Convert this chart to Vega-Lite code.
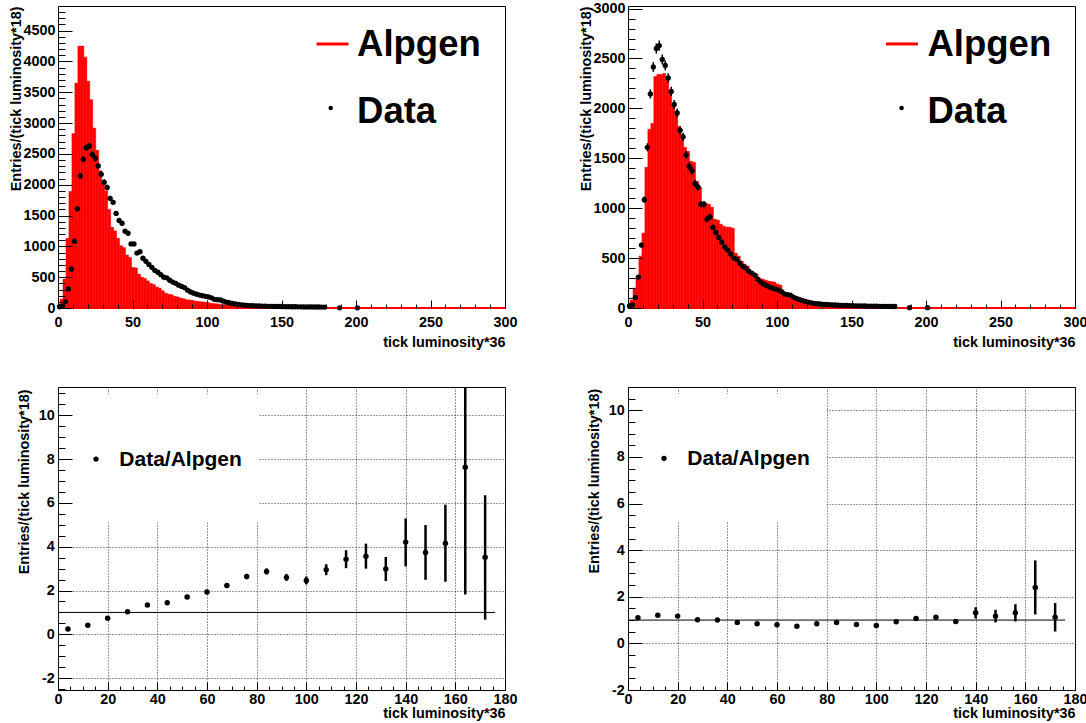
{
"$schema": "https://vega.github.io/schema/vega-lite/v6.json",
"autosize": {"type": "pad"},
"padding": {"left": 7, "top": 0, "right": 0, "bottom": 0},
"background": "white",
"config": {
 "font": "Liberation Sans",
 "view": {"stroke": "#000", "strokeWidth": 1},
 "axis": {"labelFont": "Liberation Sans", "labelFontWeight": "bold", "labelFontSize": 14.4, "labelColor": "#000", "titleFont": "Liberation Sans", "titleFontWeight": "bold", "titleFontSize": 14.4, "titleColor": "#000", "tickColor": "#000", "tickWidth": 1, "domain": false, "labelFlush": false, "labelOverlap": false, "grid": false, "labelExpr": "'' + datum.value"}
},
"datasets": {
 "alpgenA": [{"lo":-1,"n":60},{"lo":1,"n":145},{"lo":3,"n":470},{"lo":5,"n":1130},{"lo":7,"n":1890},{"lo":9,"n":2830},{"lo":11,"n":3650},{"lo":13,"n":4250},{"lo":15,"n":4250},{"lo":17,"n":4070},{"lo":19,"n":3680},{"lo":21,"n":3380},{"lo":23,"n":2920},{"lo":25,"n":2560},{"lo":27,"n":2230},{"lo":29,"n":2030},{"lo":31,"n":1900},{"lo":33,"n":1600},{"lo":35,"n":1310},{"lo":37,"n":1250},{"lo":39,"n":1130},{"lo":41,"n":1010},{"lo":43,"n":980},{"lo":45,"n":860},{"lo":47,"n":820},{"lo":49,"n":660},{"lo":51,"n":650},{"lo":53,"n":550},{"lo":55,"n":500},{"lo":57,"n":480},{"lo":59,"n":440},{"lo":61,"n":400},{"lo":63,"n":380},{"lo":65,"n":340},{"lo":67,"n":320},{"lo":69,"n":280},{"lo":71,"n":240},{"lo":73,"n":225},{"lo":75,"n":215},{"lo":77,"n":190},{"lo":79,"n":180},{"lo":81,"n":160},{"lo":83,"n":150},{"lo":85,"n":135},{"lo":87,"n":130},{"lo":89,"n":125},{"lo":91,"n":110},{"lo":93,"n":105},{"lo":95,"n":100},{"lo":97,"n":95},{"lo":99,"n":90},{"lo":101,"n":78},{"lo":103,"n":72},{"lo":105,"n":68},{"lo":107,"n":62},{"lo":109,"n":58},{"lo":111,"n":52},{"lo":113,"n":48},{"lo":115,"n":45},{"lo":117,"n":42},{"lo":119,"n":40},{"lo":121,"n":32},{"lo":123,"n":30},{"lo":125,"n":28},{"lo":127,"n":27},{"lo":129,"n":26},{"lo":131,"n":25},{"lo":133,"n":24},{"lo":135,"n":23},{"lo":137,"n":22},{"lo":139,"n":20},{"lo":141,"n":18},{"lo":143,"n":16},{"lo":145,"n":15},{"lo":147,"n":14},{"lo":149,"n":13},{"lo":151,"n":12},{"lo":153,"n":11},{"lo":155,"n":10},{"lo":157,"n":9},{"lo":159,"n":9},{"lo":161,"n":8},{"lo":163,"n":8},{"lo":165,"n":7},{"lo":167,"n":7},{"lo":169,"n":6},{"lo":171,"n":6},{"lo":173,"n":5},{"lo":175,"n":5},{"lo":177,"n":4},{"lo":179,"n":4}],
 "alpgenB": [{"lo":-1,"n":50},{"lo":1,"n":80},{"lo":3,"n":200},{"lo":5,"n":310},{"lo":7,"n":520},{"lo":9,"n":750},{"lo":11,"n":1410},{"lo":13,"n":1790},{"lo":15,"n":1850},{"lo":17,"n":2320},{"lo":19,"n":2340},{"lo":21,"n":2340},{"lo":23,"n":2350},{"lo":25,"n":2290},{"lo":27,"n":2170},{"lo":29,"n":2040},{"lo":31,"n":1940},{"lo":33,"n":1820},{"lo":35,"n":1740},{"lo":37,"n":1610},{"lo":39,"n":1570},{"lo":41,"n":1470},{"lo":43,"n":1460},{"lo":45,"n":1270},{"lo":47,"n":1210},{"lo":49,"n":1060},{"lo":51,"n":1050},{"lo":53,"n":1040},{"lo":55,"n":1010},{"lo":57,"n":890},{"lo":59,"n":880},{"lo":61,"n":840},{"lo":63,"n":820},{"lo":65,"n":810},{"lo":67,"n":810},{"lo":69,"n":800},{"lo":71,"n":550},{"lo":73,"n":520},{"lo":75,"n":470},{"lo":77,"n":440},{"lo":79,"n":420},{"lo":81,"n":360},{"lo":83,"n":350},{"lo":85,"n":340},{"lo":87,"n":300},{"lo":89,"n":290},{"lo":91,"n":280},{"lo":93,"n":270},{"lo":95,"n":265},{"lo":97,"n":260},{"lo":99,"n":240},{"lo":101,"n":230},{"lo":103,"n":170},{"lo":105,"n":150},{"lo":107,"n":140},{"lo":109,"n":115},{"lo":111,"n":110},{"lo":113,"n":105},{"lo":115,"n":95},{"lo":117,"n":85},{"lo":119,"n":60},{"lo":121,"n":55},{"lo":123,"n":50},{"lo":125,"n":48},{"lo":127,"n":45},{"lo":129,"n":40},{"lo":131,"n":32},{"lo":133,"n":30},{"lo":135,"n":28},{"lo":137,"n":26},{"lo":139,"n":24},{"lo":141,"n":22},{"lo":143,"n":20},{"lo":145,"n":18},{"lo":147,"n":16},{"lo":149,"n":14},{"lo":151,"n":12},{"lo":153,"n":11},{"lo":155,"n":10},{"lo":157,"n":9},{"lo":159,"n":8},{"lo":161,"n":8},{"lo":163,"n":7},{"lo":165,"n":6},{"lo":167,"n":6},{"lo":169,"n":5},{"lo":171,"n":5},{"lo":173,"n":4},{"lo":175,"n":4},{"lo":177,"n":3},{"lo":179,"n":3}],
 "data": [{"x":1,"v":20,"err":4},{"x":3,"v":30,"err":5},{"x":5,"v":105,"err":10},{"x":7,"v":310,"err":18},{"x":9,"v":630,"err":25},{"x":11,"v":1085,"err":33},{"x":13,"v":1610,"err":40},{"x":15,"v":2145,"err":46},{"x":17,"v":2415,"err":49},{"x":19,"v":2600,"err":51},{"x":21,"v":2630,"err":51},{"x":23,"v":2490,"err":50},{"x":25,"v":2430,"err":49},{"x":27,"v":2305,"err":48},{"x":29,"v":2170,"err":47},{"x":31,"v":2040,"err":45},{"x":33,"v":1955,"err":44},{"x":35,"v":1780,"err":42},{"x":37,"v":1715,"err":41},{"x":39,"v":1535,"err":39},{"x":41,"v":1420,"err":38},{"x":43,"v":1375,"err":37},{"x":45,"v":1247,"err":35},{"x":47,"v":1213,"err":35},{"x":49,"v":1040,"err":32},{"x":51,"v":1040,"err":32},{"x":53,"v":890,"err":30},{"x":55,"v":913,"err":30},{"x":57,"v":807,"err":28},{"x":59,"v":757,"err":28},{"x":61,"v":707,"err":27},{"x":63,"v":660,"err":26},{"x":65,"v":610,"err":25},{"x":67,"v":580,"err":24},{"x":69,"v":540,"err":23},{"x":71,"v":500,"err":22},{"x":73,"v":490,"err":22},{"x":75,"v":450,"err":21},{"x":77,"v":420,"err":20},{"x":79,"v":400,"err":20},{"x":81,"v":370,"err":19},{"x":83,"v":350,"err":19},{"x":85,"v":330,"err":18},{"x":87,"v":290,"err":17},{"x":89,"v":260,"err":16},{"x":91,"v":240,"err":15},{"x":93,"v":225,"err":15},{"x":95,"v":210,"err":14},{"x":97,"v":200,"err":14},{"x":99,"v":190,"err":14},{"x":101,"v":180,"err":13},{"x":103,"v":165,"err":13},{"x":105,"v":140,"err":12},{"x":107,"v":135,"err":12},{"x":109,"v":130,"err":11},{"x":111,"v":110,"err":10},{"x":113,"v":95,"err":10},{"x":115,"v":85,"err":9},{"x":117,"v":75,"err":9},{"x":119,"v":65,"err":8},{"x":121,"v":58,"err":8},{"x":123,"v":52,"err":7},{"x":125,"v":47,"err":7},{"x":127,"v":43,"err":7},{"x":129,"v":40,"err":6},{"x":131,"v":37,"err":6},{"x":133,"v":35,"err":6},{"x":135,"v":33,"err":6},{"x":137,"v":31,"err":6},{"x":139,"v":30,"err":5},{"x":141,"v":28,"err":5},{"x":143,"v":27,"err":5},{"x":145,"v":26,"err":5},{"x":147,"v":25,"err":5},{"x":149,"v":24,"err":5},{"x":151,"v":23,"err":5},{"x":153,"v":22,"err":5},{"x":155,"v":21,"err":5},{"x":157,"v":20,"err":4},{"x":159,"v":20,"err":4},{"x":161,"v":19,"err":4},{"x":163,"v":19,"err":4},{"x":165,"v":18,"err":4},{"x":167,"v":18,"err":4},{"x":169,"v":17,"err":4},{"x":171,"v":17,"err":4},{"x":173,"v":16,"err":4},{"x":175,"v":16,"err":4},{"x":177,"v":15,"err":4},{"x":179,"v":15,"err":4},{"x":189,"v":3,"err":2},{"x":201,"v":3,"err":2}],
 "ratioA": [{"x":4,"r":0.24,"lo":0.20,"hi":0.28},{"x":12,"r":0.42,"lo":0.38,"hi":0.46},{"x":20,"r":0.73,"lo":0.69,"hi":0.77},{"x":28,"r":1.03,"lo":0.99,"hi":1.07},{"x":36,"r":1.34,"lo":1.29,"hi":1.39},{"x":44,"r":1.44,"lo":1.38,"hi":1.50},{"x":52,"r":1.70,"lo":1.63,"hi":1.77},{"x":60,"r":1.93,"lo":1.85,"hi":2.01},{"x":68,"r":2.23,"lo":2.13,"hi":2.33},{"x":76,"r":2.64,"lo":2.52,"hi":2.76},{"x":84,"r":2.87,"lo":2.73,"hi":3.01},{"x":92,"r":2.60,"lo":2.44,"hi":2.76},{"x":100,"r":2.46,"lo":2.28,"hi":2.64},{"x":108,"r":2.95,"lo":2.70,"hi":3.20},{"x":116,"r":3.43,"lo":3.02,"hi":3.84},{"x":124,"r":3.57,"lo":3.00,"hi":4.14},{"x":132,"r":2.98,"lo":2.43,"hi":3.53},{"x":140,"r":4.21,"lo":3.10,"hi":5.29},{"x":148,"r":3.74,"lo":2.49,"hi":4.99},{"x":156,"r":4.16,"lo":2.40,"hi":5.92},{"x":164,"r":7.63,"lo":1.82,"hi":13.44},{"x":172,"r":3.52,"lo":0.67,"hi":6.35}],
 "ratioB": [{"x":4,"r":1.10,"lo":1.06,"hi":1.14},{"x":12,"r":1.21,"lo":1.17,"hi":1.25},{"x":20,"r":1.17,"lo":1.13,"hi":1.21},{"x":28,"r":1.01,"lo":0.97,"hi":1.05},{"x":36,"r":1.00,"lo":0.96,"hi":1.04},{"x":44,"r":0.90,"lo":0.86,"hi":0.94},{"x":52,"r":0.84,"lo":0.80,"hi":0.88},{"x":60,"r":0.80,"lo":0.76,"hi":0.84},{"x":68,"r":0.74,"lo":0.70,"hi":0.78},{"x":76,"r":0.84,"lo":0.79,"hi":0.89},{"x":84,"r":0.90,"lo":0.85,"hi":0.95},{"x":92,"r":0.81,"lo":0.76,"hi":0.86},{"x":100,"r":0.77,"lo":0.71,"hi":0.83},{"x":108,"r":0.93,"lo":0.86,"hi":1.00},{"x":116,"r":1.07,"lo":0.98,"hi":1.16},{"x":124,"r":1.12,"lo":1.02,"hi":1.22},{"x":132,"r":0.94,"lo":0.84,"hi":1.04},{"x":140,"r":1.31,"lo":1.07,"hi":1.55},{"x":148,"r":1.17,"lo":0.90,"hi":1.44},{"x":156,"r":1.31,"lo":0.94,"hi":1.68},{"x":164,"r":2.40,"lo":1.24,"hi":3.56},{"x":172,"r":1.12,"lo":0.51,"hi":1.73}]
},
"columns": 2,
"spacing": {"row": 79, "column": 123},
"bounds": "flush",
"concat": [
 {
  "width": 447, "height": 302,
  "resolve": {"axis": {"x": "independent", "y": "independent"}},
  "layer": [
   {"data": {"name": "alpgenA"},
    "mark": {"type": "bar", "color": "#ff0000", "binSpacing": 0, "stroke": "#ff0000", "strokeWidth": 0.5, "clip": true},
    "encoding": {
     "x": {"field": "lo", "type": "quantitative", "bin": {"binned": true, "step": 2}, "scale": {"domain": [0, 300], "nice": false, "zero": false},
      "axis": {"orient": "bottom", "values": [0,50,100,150,200,250,300], "tickSize": -8, "labelPadding": 15, "zindex": 1, "title": "tick luminosity*36", "titleX": 447, "titleY": 38, "titleAlign": "right", "titleAnchor": "end", "titleBaseline": "alphabetic"}},
     "y": {"field": "n", "type": "quantitative", "scale": {"domain": [0, 4900], "nice": false},
      "axis": {"orient": "left", "values": [0,500,1000,1500,2000,2500,3000,3500,4000,4500], "tickSize": -14, "labelPadding": 17, "zindex": 1, "title": "Entries/(tick luminosity*18)", "titleX": -38, "titleY": 0, "titleAngle": 270, "titleAlign": "right", "titleAnchor": "end", "titleBaseline": "alphabetic"}}
    }},
   {"data": {"values": [{}]}, "mark": {"type": "rule", "color": "#ff0000", "strokeWidth": 2},
    "encoding": {
     "x": {"datum": 0, "axis": {"orient": "bottom", "values": [0,10,20,30,40,50,60,70,80,90,100,110,120,130,140,150,160,170,180,190,200,210,220,230,240,250,260,270,280,290,300], "tickSize": -4, "labels": false, "title": null, "zindex": 1}},
     "x2": {"datum": 300},
     "y": {"datum": 0, "axis": {"orient": "left", "values": [0,100,200,300,400,500,600,700,800,900,1000,1100,1200,1300,1400,1500,1600,1700,1800,1900,2000,2100,2200,2300,2400,2500,2600,2700,2800,2900,3000,3100,3200,3300,3400,3500,3600,3700,3800,3900,4000,4100,4200,4300,4400,4500,4600,4700,4800], "tickSize": -7, "labels": false, "title": null, "zindex": 1}}
    }},
   {"data": {"name": "data"}, "mark": {"type": "errorbar", "ticks": false, "color": "#000", "thickness": 1.5}, "encoding": {"x": {"field": "x", "type": "quantitative", "axis": null}, "y": {"field": "v", "type": "quantitative", "axis": null}, "yError": {"field": "err"}}},
   {"data": {"name": "data"}, "mark": {"type": "circle", "color": "#000", "size": 28, "opacity": 1}, "encoding": {"x": {"field": "x", "type": "quantitative", "axis": null}, "y": {"field": "v", "type": "quantitative", "axis": null}}},
   {"data": {"values": [{}]}, "mark": {"type": "rule", "color": "#ff0000", "strokeWidth": 3}, "encoding": {"x": {"datum": 173.5, "axis": null}, "x2": {"datum": 195}, "y": {"datum": 4284, "axis": null}}},
   {"data": {"values": [{}]}, "mark": {"type": "circle", "color": "#000", "size": 20, "opacity": 1}, "encoding": {"x": {"datum": 183, "axis": null}, "y": {"datum": 3246, "axis": null}}},
   {"data": {"values": [{}]}, "mark": {"type": "text", "text": "Alpgen", "font": "Liberation Sans", "fontWeight": "bold", "fontSize": 36.5, "align": "left", "baseline": "alphabetic", "color": "#000"}, "encoding": {"x": {"datum": 200.7, "axis": null}, "y": {"datum": 4084, "axis": null}}},
   {"data": {"values": [{}]}, "mark": {"type": "text", "text": "Data", "font": "Liberation Sans", "fontWeight": "bold", "fontSize": 36.5, "align": "left", "baseline": "alphabetic", "color": "#000"}, "encoding": {"x": {"datum": 200.7, "axis": null}, "y": {"datum": 3003, "axis": null}}}
  ]
 },
 {
  "width": 447, "height": 302,
  "resolve": {"axis": {"x": "independent", "y": "independent"}},
  "layer": [
   {"data": {"name": "alpgenB"},
    "mark": {"type": "bar", "color": "#ff0000", "binSpacing": 0, "stroke": "#ff0000", "strokeWidth": 0.5, "clip": true},
    "encoding": {
     "x": {"field": "lo", "type": "quantitative", "bin": {"binned": true, "step": 2}, "scale": {"domain": [0, 300], "nice": false, "zero": false},
      "axis": {"orient": "bottom", "values": [0,50,100,150,200,250,300], "tickSize": -8, "labelPadding": 15, "zindex": 1, "title": "tick luminosity*36", "titleX": 447, "titleY": 38, "titleAlign": "right", "titleAnchor": "end", "titleBaseline": "alphabetic"}},
     "y": {"field": "n", "type": "quantitative", "scale": {"domain": [0, 3026], "nice": false},
      "axis": {"orient": "left", "values": [0,500,1000,1500,2000,2500,3000], "tickSize": -14, "labelPadding": 17, "zindex": 1, "title": "Entries/(tick luminosity*18)", "titleX": -38, "titleY": 0, "titleAngle": 270, "titleAlign": "right", "titleAnchor": "end", "titleBaseline": "alphabetic"}}
    }},
   {"data": {"values": [{}]}, "mark": {"type": "rule", "color": "#ff0000", "strokeWidth": 2},
    "encoding": {
     "x": {"datum": 0, "axis": {"orient": "bottom", "values": [0,10,20,30,40,50,60,70,80,90,100,110,120,130,140,150,160,170,180,190,200,210,220,230,240,250,260,270,280,290,300], "tickSize": -4, "labels": false, "title": null, "zindex": 1}},
     "x2": {"datum": 300},
     "y": {"datum": 0, "axis": {"orient": "left", "values": [0,100,200,300,400,500,600,700,800,900,1000,1100,1200,1300,1400,1500,1600,1700,1800,1900,2000,2100,2200,2300,2400,2500,2600,2700,2800,2900,3000], "tickSize": -7, "labels": false, "title": null, "zindex": 1}}
    }},
   {"data": {"name": "data"}, "mark": {"type": "errorbar", "ticks": false, "color": "#000", "thickness": 1.5}, "encoding": {"x": {"field": "x", "type": "quantitative", "axis": null}, "y": {"field": "v", "type": "quantitative", "axis": null}, "yError": {"field": "err"}}},
   {"data": {"name": "data"}, "mark": {"type": "circle", "color": "#000", "size": 28, "opacity": 1}, "encoding": {"x": {"field": "x", "type": "quantitative", "axis": null}, "y": {"field": "v", "type": "quantitative", "axis": null}}},
   {"data": {"values": [{}]}, "mark": {"type": "rule", "color": "#ff0000", "strokeWidth": 3}, "encoding": {"x": {"datum": 173.2, "axis": null}, "x2": {"datum": 194.6}, "y": {"datum": 2646, "axis": null}}},
   {"data": {"values": [{}]}, "mark": {"type": "circle", "color": "#000", "size": 20, "opacity": 1}, "encoding": {"x": {"datum": 183.6, "axis": null}, "y": {"datum": 2005, "axis": null}}},
   {"data": {"values": [{}]}, "mark": {"type": "text", "text": "Alpgen", "font": "Liberation Sans", "fontWeight": "bold", "fontSize": 36.5, "align": "left", "baseline": "alphabetic", "color": "#000"}, "encoding": {"x": {"datum": 201, "axis": null}, "y": {"datum": 2523, "axis": null}}},
   {"data": {"values": [{}]}, "mark": {"type": "text", "text": "Data", "font": "Liberation Sans", "fontWeight": "bold", "fontSize": 36.5, "align": "left", "baseline": "alphabetic", "color": "#000"}, "encoding": {"x": {"datum": 201, "axis": null}, "y": {"datum": 1855, "axis": null}}}
  ]
 },
 {
  "width": 447, "height": 303,
  "resolve": {"axis": {"x": "independent", "y": "independent"}},
  "layer": [
   {"data": {"values": [{}]}, "mark": {"type": "rect", "color": "#ffffff", "opacity": 1},
    "encoding": {
     "x": {"datum": 6, "type": "quantitative", "scale": {"domain": [0, 180], "nice": false, "zero": false},
      "axis": {"orient": "bottom", "values": [0,20,40,60,80,100,120,140,160,180], "tickSize": -8, "labelPadding": 10.5, "grid": true, "gridDash": [1, 2], "gridColor": "#333", "title": "tick luminosity*36", "titleX": 447, "titleY": 27.7, "titleAlign": "right", "titleAnchor": "end", "titleBaseline": "alphabetic"}},
     "x2": {"datum": 81},
     "y": {"datum": 5.12, "type": "quantitative", "scale": {"domain": [-2.54, 11.29], "nice": false, "zero": false},
      "axis": {"orient": "left", "values": [-2,0,2,4,6,8,10], "tickSize": -14, "labelPadding": 17.7, "grid": true, "gridDash": [1, 2], "gridColor": "#333", "title": "Entries/(tick luminosity*18)", "titleX": -30, "titleY": 2, "titleAngle": 270, "titleAlign": "right", "titleAnchor": "end", "titleBaseline": "alphabetic"}},
     "y2": {"datum": 10.96}
    }},
   {"data": {"values": [{}]}, "mark": {"type": "rule", "color": "#000", "strokeWidth": 1},
    "encoding": {
     "x": {"datum": 0, "axis": {"orient": "bottom", "values": [0,5,10,15,20,25,30,35,40,45,50,55,60,65,70,75,80,85,90,95,100,105,110,115,120,125,130,135,140,145,150,155,160,165,170,175,180], "tickSize": -4, "labels": false, "title": null}},
     "x2": {"datum": 176},
     "y": {"datum": 1, "axis": {"orient": "left", "values": [-2.5,-2,-1.5,-1,-0.5,0,0.5,1,1.5,2,2.5,3,3.5,4,4.5,5,5.5,6,6.5,7,7.5,8,8.5,9,9.5,10,10.5,11], "tickSize": -7, "labels": false, "title": null}}
    }},
   {"data": {"name": "ratioA"}, "mark": {"type": "rule", "color": "#000", "strokeWidth": 2.5, "clip": true}, "encoding": {"x": {"field": "x", "type": "quantitative", "axis": null}, "y": {"field": "lo", "type": "quantitative", "axis": null}, "y2": {"field": "hi"}}},
   {"data": {"name": "ratioA"}, "mark": {"type": "circle", "color": "#000", "size": 30, "opacity": 1}, "encoding": {"x": {"field": "x", "type": "quantitative", "axis": null}, "y": {"field": "r", "type": "quantitative", "axis": null}}},
   {"data": {"values": [{}]}, "mark": {"type": "circle", "color": "#000", "size": 28, "opacity": 1}, "encoding": {"x": {"datum": 15.3, "axis": null}, "y": {"datum": 8.0, "axis": null}}},
   {"data": {"values": [{}]}, "mark": {"type": "text", "text": "Data/Alpgen", "font": "Liberation Sans", "fontWeight": "bold", "fontSize": 21, "align": "left", "baseline": "alphabetic", "color": "#000"}, "encoding": {"x": {"datum": 24.7, "axis": null}, "y": {"datum": 7.67, "axis": null}}}
  ]
 },
 {
  "width": 447, "height": 303,
  "resolve": {"axis": {"x": "independent", "y": "independent"}},
  "layer": [
   {"data": {"values": [{}]}, "mark": {"type": "rect", "color": "#ffffff", "opacity": 1},
    "encoding": {
     "x": {"datum": 6, "type": "quantitative", "scale": {"domain": [0, 180], "nice": false, "zero": false},
      "axis": {"orient": "bottom", "values": [0,20,40,60,80,100,120,140,160,180], "tickSize": -8, "labelPadding": 10.5, "grid": true, "gridDash": [1, 2], "gridColor": "#333", "title": "tick luminosity*36", "titleX": 447, "titleY": 27.7, "titleAlign": "right", "titleAnchor": "end", "titleBaseline": "alphabetic"}},
     "x2": {"datum": 80},
     "y": {"datum": 5.21, "type": "quantitative", "scale": {"domain": [-2, 11], "nice": false, "zero": false},
      "axis": {"orient": "left", "values": [-2,0,2,4,6,8,10], "tickSize": -14, "labelPadding": 17.7, "grid": true, "gridDash": [1, 2], "gridColor": "#333", "title": "Entries/(tick luminosity*18)", "titleX": -30, "titleY": 1.3, "titleAngle": 270, "titleAlign": "right", "titleAnchor": "end", "titleBaseline": "alphabetic"}},
     "y2": {"datum": 10.70}
    }},
   {"data": {"values": [{}]}, "mark": {"type": "rule", "color": "#000", "strokeWidth": 1},
    "encoding": {
     "x": {"datum": 0, "axis": {"orient": "bottom", "values": [0,5,10,15,20,25,30,35,40,45,50,55,60,65,70,75,80,85,90,95,100,105,110,115,120,125,130,135,140,145,150,155,160,165,170,175,180], "tickSize": -4, "labels": false, "title": null}},
     "x2": {"datum": 176},
     "y": {"datum": 1, "axis": {"orient": "left", "values": [-2,-1.5,-1,-0.5,0,0.5,1,1.5,2,2.5,3,3.5,4,4.5,5,5.5,6,6.5,7,7.5,8,8.5,9,9.5,10,10.5,11], "tickSize": -7, "labels": false, "title": null}}
    }},
   {"data": {"name": "ratioB"}, "mark": {"type": "rule", "color": "#000", "strokeWidth": 2.5, "clip": true}, "encoding": {"x": {"field": "x", "type": "quantitative", "axis": null}, "y": {"field": "lo", "type": "quantitative", "axis": null}, "y2": {"field": "hi"}}},
   {"data": {"name": "ratioB"}, "mark": {"type": "circle", "color": "#000", "size": 30, "opacity": 1}, "encoding": {"x": {"field": "x", "type": "quantitative", "axis": null}, "y": {"field": "r", "type": "quantitative", "axis": null}}},
   {"data": {"values": [{}]}, "mark": {"type": "circle", "color": "#000", "size": 28, "opacity": 1}, "encoding": {"x": {"datum": 14.5, "axis": null}, "y": {"datum": 7.94, "axis": null}}},
   {"data": {"values": [{}]}, "mark": {"type": "text", "text": "Data/Alpgen", "font": "Liberation Sans", "fontWeight": "bold", "fontSize": 21, "align": "left", "baseline": "alphabetic", "color": "#000"}, "encoding": {"x": {"datum": 23.9, "axis": null}, "y": {"datum": 7.65, "axis": null}}}
  ]
 }
]
}
